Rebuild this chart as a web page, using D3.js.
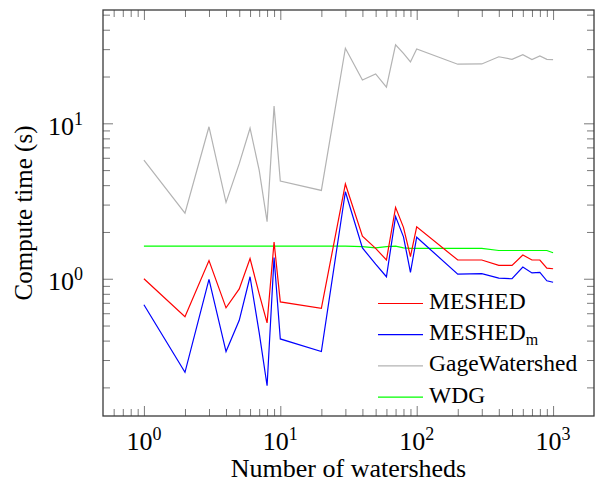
<!DOCTYPE html>
<html>
<head>
<meta charset="utf-8">
<script src="https://cdn.jsdelivr.net/npm/d3@7"></script>
<style>
  body { margin: 0; background: #fff; }
  text { font-family: "Liberation Serif", "Times New Roman", serif; fill: #000; }
</style>
</head>
<body>
<div id="container"></div>
<script>
/* DATA */
const watersheds = [1, 2, 3, 4, 5, 6, 7, 8, 9, 10, 20, 30, 40, 50, 60, 70, 80, 90, 100,
                    200, 300, 400, 500, 600, 700, 800, 900, 1000]
const meshed = [1.0, 0.57, 1.31, 0.65, 0.86, 1.35, 0.8, 0.52, 1.72, 0.71, 0.645, 4.07, 1.88, 1.57, 1.32, 2.88, 2.14, 1.39, 2.16,
                1.32, 1.32, 1.22, 1.22, 1.42, 1.32, 1.32, 1.17, 1.16]
const meshedM = [0.68, 0.25, 0.99, 0.34, 0.54, 1.03, 0.45, 0.205, 1.37, 0.41, 0.34, 3.63, 1.58, 1.24, 1.03, 2.51, 1.86, 1.10, 1.85,
                 1.07, 1.08, 1.01, 1.0, 1.19, 1.09, 1.10, 0.97, 0.95]
const gage = [5.8, 2.64, 9.5, 3.1, 5.5, 9.3, 5.0, 2.33, 12.9, 4.25, 3.7, 30.4, 19.0, 20.8, 17.1, 32.0, 28.2, 24.8, 30.1,
              24.0, 24.1, 26.8, 25.8, 27.6, 25.7, 27.1, 25.8, 25.7]
const wdg = [1.62, 1.62, 1.62, 1.62, 1.62, 1.62, 1.62, 1.62, 1.62, 1.62, 1.62, 1.62, 1.61, 1.58, 1.61, 1.62, 1.58, 1.57, 1.57,
             1.57, 1.57, 1.52, 1.52, 1.52, 1.52, 1.52, 1.52, 1.47]
const xTickExps = [0, 1, 2, 3]
const yTickExps = [0, 1]
const legendNames = ["MESHED", "MESHED", "GageWatershed", "WDG"]

/* CONSTANTS */
const width = 600
const height = 493
const margin = { top: 10, bottom: 77, left: 103, right: 6 }

const series = [
  { name: legendNames[0], sub: "", values: meshed, color: "#ff0000" },
  { name: legendNames[1], sub: "m", values: meshedM, color: "#0000ff" },
  { name: legendNames[2], sub: "", values: gage, color: "#b3b3b3" },
  { name: legendNames[3], sub: "", values: wdg, color: "#00ff00" }
]

/* SCALES */
const xScale = d3.scaleLog()
  .domain([Math.pow(10, -0.3), Math.pow(10, 3.3)])
  .range([margin.left, width - margin.right])

const yScale = d3.scaleLog()
  .domain([Math.pow(10, -0.883), Math.pow(10, 1.729)])
  .range([height - margin.bottom, margin.top])

// minor ticks 2..9 inside the domain
function minorTicks(scale) {
  const [a, b] = scale.domain()
  const out = []
  for (let e = Math.floor(Math.log10(a)); e <= Math.ceil(Math.log10(b)); e++) {
    for (let k = 2; k <= 9; k++) {
      const v = k * Math.pow(10, e)
      if (v >= a && v <= b) out.push(v)
    }
  }
  return out
}

const svg = d3.select("#container")
  .append("svg")
  .attr("width", width)
  .attr("height", height)

const tickColor = "#7a7a7a"
const x0 = margin.left, x1 = width - margin.right
const y0 = height - margin.bottom, y1 = margin.top

function styleTicks(g) {
  g.select(".domain").remove()
  g.selectAll("line").attr("stroke", tickColor).attr("stroke-width", 1)
}

const xMajor = xTickExps.map(e => Math.pow(10, e))
const yMajor = yTickExps.map(e => Math.pow(10, e))

// x ticks bottom + top
svg.append("g").attr("transform", `translate(0,${y0})`)
  .call(d3.axisBottom(xScale).tickValues(minorTicks(xScale)).tickSize(-7).tickFormat(""))
  .call(styleTicks)
svg.append("g").attr("transform", `translate(0,${y0})`)
  .call(d3.axisBottom(xScale).tickValues(xMajor).tickSize(-10).tickFormat(""))
  .call(styleTicks)
svg.append("g").attr("transform", `translate(0,${y1})`)
  .call(d3.axisTop(xScale).tickValues(minorTicks(xScale)).tickSize(-7).tickFormat(""))
  .call(styleTicks)
svg.append("g").attr("transform", `translate(0,${y1})`)
  .call(d3.axisTop(xScale).tickValues(xMajor).tickSize(-10).tickFormat(""))
  .call(styleTicks)

// y ticks left + right
svg.append("g").attr("transform", `translate(${x0},0)`)
  .call(d3.axisLeft(yScale).tickValues(minorTicks(yScale)).tickSize(-7).tickFormat(""))
  .call(styleTicks)
svg.append("g").attr("transform", `translate(${x0},0)`)
  .call(d3.axisLeft(yScale).tickValues(yMajor).tickSize(-10).tickFormat(""))
  .call(styleTicks)
svg.append("g").attr("transform", `translate(${x1},0)`)
  .call(d3.axisRight(yScale).tickValues(minorTicks(yScale)).tickSize(-7).tickFormat(""))
  .call(styleTicks)
svg.append("g").attr("transform", `translate(${x1},0)`)
  .call(d3.axisRight(yScale).tickValues(yMajor).tickSize(-10).tickFormat(""))
  .call(styleTicks)

// tick labels 10^n
xTickExps.forEach(e => {
  const t = svg.append("text")
    .attr("x", xScale(Math.pow(10, e)))
    .attr("y", 450)
    .attr("text-anchor", "middle")
    .style("font-size", "26px")
  t.append("tspan").text("10")
  t.append("tspan").attr("dy", -10).style("font-size", "18px").text(e)
})
yTickExps.forEach(e => {
  const t = svg.append("text")
    .attr("x", 83)
    .attr("y", yScale(Math.pow(10, e)) + 11.5)
    .attr("text-anchor", "end")
    .style("font-size", "26px")
  t.append("tspan").text("10")
  t.append("tspan").attr("dy", -10).style("font-size", "18px").text(e)
})

// lines
const line = d3.line()
  .x((d, i) => xScale(watersheds[i]))
  .y(d => yScale(d))

const order = [2, 3, 0, 1]
order.forEach(k => {
  svg.append("path")
    .attr("d", line(series[k].values))
    .attr("fill", "none")
    .attr("stroke", series[k].color)
    .attr("stroke-width", 1.2)
    .attr("stroke-linejoin", "miter")
})

// frame
svg.append("rect")
  .attr("x", x0).attr("y", y1)
  .attr("width", x1 - x0).attr("height", y0 - y1)
  .attr("fill", "none")
  .attr("stroke", "#3a3a3a")
  .attr("stroke-width", 1.3)

// axis titles
svg.append("text")
  .attr("x", (x0 + x1) / 2)
  .attr("y", 477)
  .attr("text-anchor", "middle")
  .style("font-size", "26px")
  .text("Number of watersheds")

svg.append("text")
  .attr("transform", `translate(32,${(y0 + y1) / 2}) rotate(-90)`)
  .attr("text-anchor", "middle")
  .style("font-size", "25px")
  .text("Compute time (s)")

// legend
const legend = svg.append("g")
series.forEach((s, i) => {
  const base = 309 + i * 31.2
  legend.append("line")
    .attr("x1", 378).attr("x2", 423)
    .attr("y1", base - 5.5).attr("y2", base - 5.5)
    .attr("stroke", s.color)
    .attr("stroke-width", 1.2)
  const t = legend.append("text")
    .attr("x", 429)
    .attr("y", base)
    .style("font-size", "23.5px")
  t.append("tspan").text(s.name)
  if (s.sub) t.append("tspan").attr("dy", 5).style("font-size", "16px").text(s.sub)
})
</script>
</body>
</html>
